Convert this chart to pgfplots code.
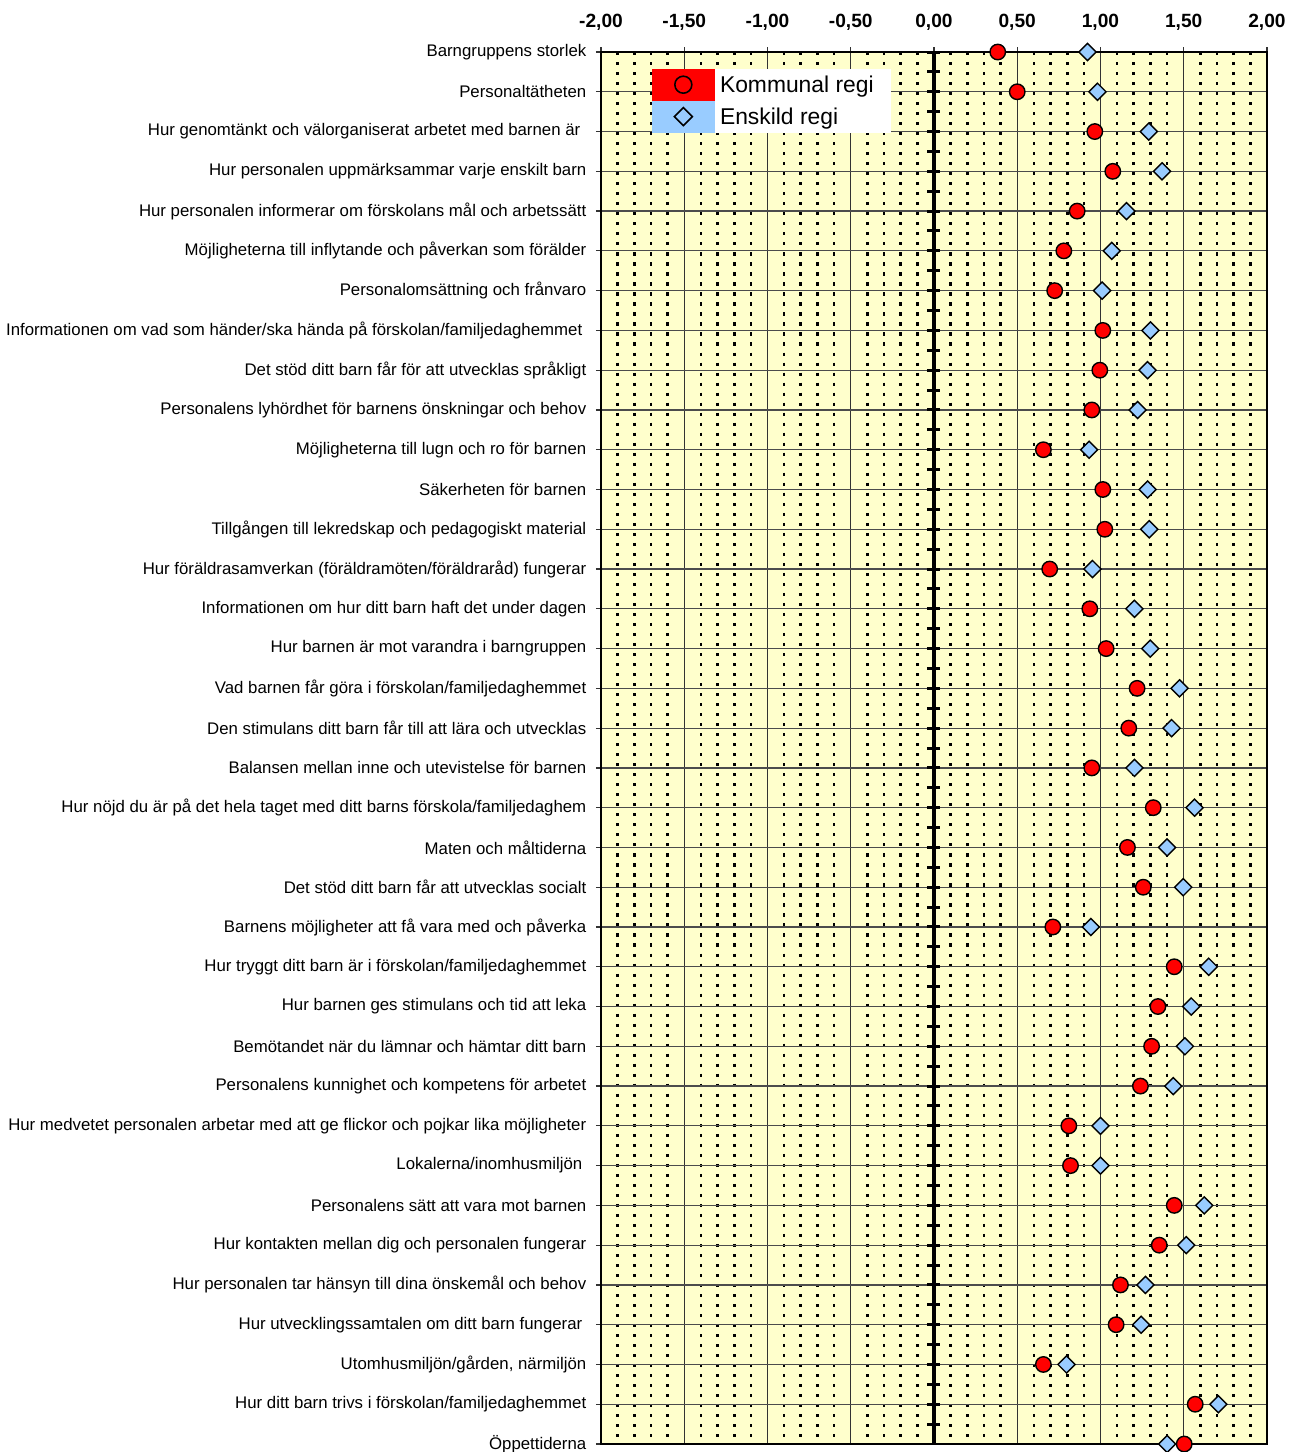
\documentclass[border=0pt]{standalone}
\usepackage{fontspec}
\setmainfont{Liberation Sans}
\usepackage{pgfplots}
\usepackage{pgfplotstable}
\pgfplotsset{compat=1.18}
\definecolor{kred}{HTML}{FF0000}
\definecolor{eblue}{HTML}{99CCFF}
\definecolor{bgyel}{HTML}{FFFFCC}

\pgfplotstableread{
row komm ensk
0 0.383 0.922
1 0.500 0.982
2 0.966 1.290
3 1.074 1.370
4 0.860 1.156
5 0.780 1.068
6 0.725 1.010
7 1.014 1.300
8 0.996 1.283
9 0.948 1.223
10 0.657 0.932
11 1.014 1.283
12 1.026 1.293
13 0.695 0.952
14 0.936 1.204
15 1.034 1.299
16 1.220 1.475
17 1.170 1.427
18 0.948 1.204
19 1.317 1.565
20 1.162 1.400
21 1.257 1.497
22 0.714 0.942
23 1.443 1.650
24 1.345 1.545
25 1.307 1.507
26 1.240 1.437
27 0.810 1.000
28 0.820 1.000
29 1.443 1.623
30 1.353 1.515
31 1.120 1.270
32 1.094 1.244
33 0.657 0.796
34 1.569 1.708
35 1.503 1.400
}\datatable

\begin{document}
\begin{tikzpicture}
\path[use as bounding box] (-6.01cm,-0.08cm) rectangle (6.93cm,14.44cm);
\begin{axis}[
  scale only axis, width=6.66cm, height=13.92cm,
  xmin=-2, xmax=2, ymin=0, ymax=35, y dir=reverse,
  axis background/.style={fill=bgyel},
  xtick={-2,-1.5,-1,-0.5,0,0.5,1,1.5,2},
  xticklabels={{-2,00},{-1,50},{-1,00},{-0,50},{0,00},{0,50},{1,00},{1,50},{2,00}},
  xtick pos=upper, xticklabel pos=upper,
  xticklabel style={font=\fontsize{5.45}{6}\selectfont\bfseries, yshift=0.04cm},
  minor x tick num=4,
  xmajorgrids, xminorgrids, ymajorgrids,
  major x grid style={black!80, line width=0.35pt},
  minor x grid style={black, line width=0.75pt, dash pattern=on 0.9pt off 1.95pt},
  major y grid style={black!70, line width=0.35pt},
  tick align=outside, major tick length=0.05cm, minor tick length=0pt,
  tick style={black!80, line width=0.35pt},
  ytick={0,...,35}, ytick pos=left,
  yticklabels={
    Barngruppens storlek,
    Personaltätheten,
    Hur genomtänkt och välorganiserat arbetet med barnen är\kern0.06cm,
    Hur personalen uppmärksammar varje enskilt barn,
    Hur personalen informerar om förskolans mål och arbetssätt,
    Möjligheterna till inflytande och påverkan som förälder,
    Personalomsättning och frånvaro,
    Informationen om vad som händer/ska hända på förskolan/familjedaghemmet\kern0.04cm,
    Det stöd ditt barn får för att utvecklas språkligt,
    Personalens lyhördhet för barnens önskningar och behov,
    Möjligheterna till lugn och ro för barnen,
    Säkerheten för barnen,
    Tillgången till lekredskap och pedagogiskt material,
    Hur föräldrasamverkan (föräldramöten/föräldraråd) fungerar,
    Informationen om hur ditt barn haft det under dagen,
    Hur barnen är mot varandra i barngruppen,
    Vad barnen får göra i förskolan/familjedaghemmet,
    Den stimulans ditt barn får till att lära och utvecklas,
    Balansen mellan inne och utevistelse för barnen,
    Hur nöjd du är på det hela taget med ditt barns förskola/familjedaghem,
    Maten och måltiderna,
    Det stöd ditt barn får att utvecklas socialt,
    Barnens möjligheter att få vara med och påverka,
    Hur tryggt ditt barn är i förskolan/familjedaghemmet,
    Hur barnen ges stimulans och tid att leka,
    Bemötandet när du lämnar och hämtar ditt barn,
    Personalens kunnighet och kompetens för arbetet,
    Hur medvetet personalen arbetar med att ge flickor och pojkar lika möjligheter,
    Lokalerna/inomhusmiljön\kern0.04cm,
    Personalens sätt att vara mot barnen,
    Hur kontakten mellan dig och personalen fungerar,
    Hur personalen tar hänsyn till dina önskemål och behov,
    Hur utvecklingssamtalen om ditt barn fungerar\kern0.04cm,
    {Utomhusmiljön/gården, närmiljön},
    Hur ditt barn trivs i förskolan/familjedaghemmet,
    Öppettiderna},
  yticklabel style={font=\fontsize{4.78}{5}\selectfont, anchor=east, inner xsep=0pt, xshift=-0.09cm},
  axis line style={black, line width=0.4pt},
  legend style={at={(0.075,0.9885)}, anchor=north west, draw=none, fill=white,
    inner sep=0pt, row sep=0pt, column sep=0pt, font=\fontsize{6.5}{7}\selectfont,
    nodes={inner sep=0pt, text height=0.23cm, text depth=0.075cm}},
  legend cell align=left,
]
\draw[black, line width=1.1pt] (axis cs:0,0) -- (axis cs:0,35);
\pgfplotsinvokeforeach{0,0.5,...,35}{\draw[black,line width=0.85pt] ([xshift=-0.065cm]axis cs:0,#1) -- ([xshift=0.065cm]axis cs:0,#1);}
\addplot[only marks, mark=square*, mark size=1.72pt, mark options={rotate=45, fill=eblue, draw=black, line width=0.4pt}, forget plot] table[x=ensk, y=row]{\datatable};
\addplot[only marks, mark=*, mark size=2.2pt, mark options={fill=kred, draw=black, line width=0.4pt}, forget plot] table[x=komm, y=row]{\datatable};
\addlegendimage{legend image code/.code={\fill[kred] (0cm,-0.1525cm) rectangle (0.62cm,0.1525cm); \draw[black,line width=0.45pt] (0.31cm,0cm) circle (0.085cm);}}
\addlegendentry{\kern0.05cm Kommunal regi\kern0.17cm}
\addlegendimage{legend image code/.code={\fill[eblue] (0cm,-0.1525cm) rectangle (0.62cm,0.1525cm); \draw[black,line width=0.45pt] (0.31cm,0.09cm) -- (0.40cm,0cm) -- (0.31cm,-0.09cm) -- (0.22cm,0cm) -- cycle;}}
\addlegendentry{\kern0.05cm Enskild regi}
\end{axis}
\end{tikzpicture}
\end{document}
